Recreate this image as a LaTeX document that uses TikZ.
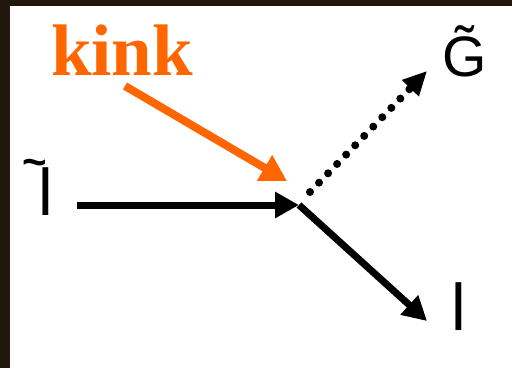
\documentclass[tikz,border=0pt]{standalone}
\usepackage{fontspec}
\setmainfont{Liberation Sans}
\newfontfamily\kinkfont{Liberation Serif}
\usetikzlibrary{arrows.meta}
\definecolor{kinkorange}{HTML}{FF6600}
\definecolor{frame}{HTML}{22170C}
\tikzset{
  lbl/.style={anchor=base west, inner sep=0pt, outer sep=0pt},
  solidarrow/.style={line width=7pt, -{Triangle[length=24pt,width=25pt]}},
  dotarrow/.style={line width=8pt, line cap=round, dash pattern=on 0pt off 13pt, -{Triangle[length=24pt,width=22pt]}},
  orangearrow/.style={kinkorange, line width=8pt, -{Triangle[length=26pt,width=28pt]}}
}
\begin{document}
\begin{tikzpicture}[x=1pt,y=-1pt]
\useasboundingbox (0,0) rectangle (512,368);
\fill[white] (0,0) rectangle (512,368);
\fill[frame] (0,0) rectangle (512,6);
\fill[frame] (0,0) rectangle (10,368);
\node[lbl, text=kinkorange, font=\kinkfont\bfseries\fontsize{73}{80}\selectfont] (kink) at (51,75) {kink};
\node[lbl, font=\fontsize{57}{64}\selectfont] (G) at (442,76) {G̃};
\node[lbl, font=\fontsize{66}{72}\selectfont] (slep) at (38,215) {\llap{\bfseries\fontsize{42}{48}\selectfont\raisebox{39pt}{\char"007E}\kern-9pt}l};
\node[lbl, font=\fontsize{66}{72}\selectfont] (lep) at (451,330) {l};
\coordinate (start) at (77,205);
\coordinate (kinkpt) at (299,205);
\coordinate (gtip) at (427,71);
\coordinate (ltip) at (427,321);
\coordinate (ostart) at (125,86);
\coordinate (otip) at (287,181);
\draw[solidarrow] (start) -- (kinkpt);
\draw[solidarrow] (kinkpt) -- (ltip);
\draw[dotarrow] (310,192) -- (gtip);
\draw[orangearrow] (ostart) -- (otip);
\end{tikzpicture}
\end{document}
